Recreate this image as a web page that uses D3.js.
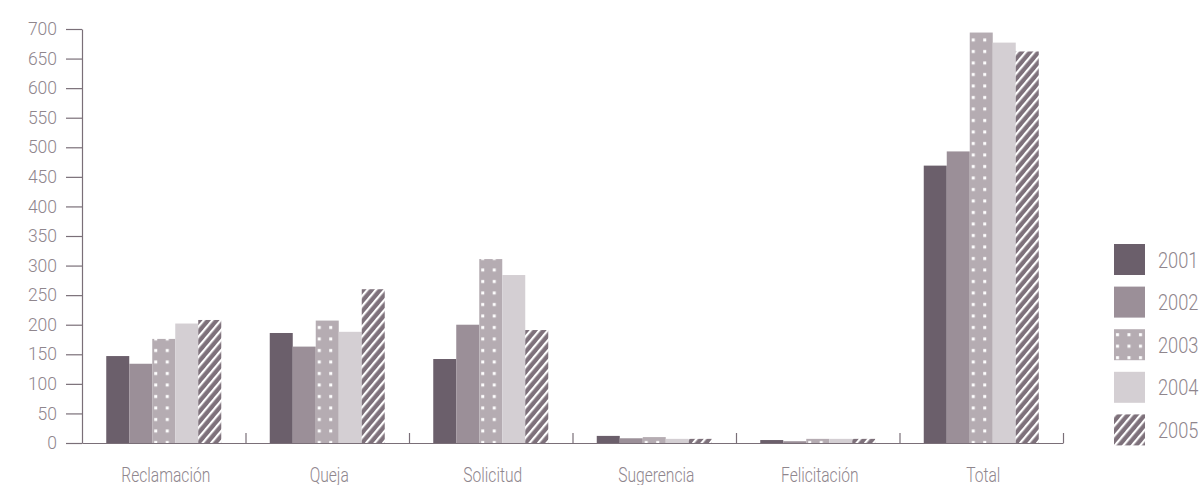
<!DOCTYPE html>
<html>
<head>
<meta charset="utf-8">
<script src="https://cdn.jsdelivr.net/npm/d3@7"></script>
<style>
  html, body { margin: 0; padding: 0; background: #fff; }
  svg { display: block; }
</style>
</head>
<body>
<svg id="chart" width="1204" height="485"></svg>
<script>
// Tipos de comunicación recibidos por año
const categories = ["Reclamación", "Queja", "Solicitud", "Sugerencia", "Felicitación", "Total"];
const years = ["2001", "2002", "2003", "2004", "2005"];
const values2001 = [147, 186, 142, 12, 5, 469];
const values2002 = [134, 163, 200, 8, 3, 493];
const values2003 = [176, 207, 311, 10, 7, 694];
const values2004 = [202, 188, 284, 7, 7, 677];
const values2005 = [208, 260, 191, 7, 7, 662];
const yTicks = [0, 50, 100, 150, 200, 250, 300, 350, 400, 450, 500, 550, 600, 650, 700];

const series = [values2001, values2002, values2003, values2004, values2005];

const svg = d3.select("#chart");
const defs = svg.append("defs");

// Dotted fill for 2003
const dots = defs.append("pattern")
  .attr("id", "dots").attr("patternUnits", "userSpaceOnUse")
  .attr("width", 11.5).attr("height", 11.5);
dots.append("rect").attr("width", 11.5).attr("height", 11.5).attr("fill", "#b5acb2");
dots.append("rect").attr("x", 2).attr("y", 4).attr("width", 3).attr("height", 3).attr("fill", "#ffffff");

// Diagonal hatch for 2005
const hatch = defs.append("pattern")
  .attr("id", "hatch").attr("patternUnits", "userSpaceOnUse")
  .attr("width", 6.5).attr("height", 6.5)
  .attr("patternTransform", "rotate(40)");
hatch.append("rect").attr("width", 6.5).attr("height", 6.5).attr("fill", "#7e717b");
hatch.append("rect").attr("x", 0).attr("y", 0).attr("width", 2.2).attr("height", 6.5).attr("fill", "#ffffff");

const fills = ["#6b5f6b", "#9b8f98", "url(#dots)", "#d4cfd3", "url(#hatch)"];

const plotLeft = 82, plotRight = 1063, plotTop = 29, plotBottom = 443;

const y = d3.scaleLinear().domain([0, 700]).range([plotBottom, plotTop]);
const x0 = d3.scaleBand().domain(categories).range([plotLeft, plotRight]).paddingInner(0).paddingOuter(0);
const groupW = 115;
const x1 = d3.scaleBand().domain(years).range([0, groupW]).padding(0);

const axisColor = "#7a6f78";
const textColor = "#8f868d";
const fontFamily = "Roboto, 'Liberation Sans', sans-serif";

// Bars
const groups = svg.append("g").selectAll("g")
  .data(categories)
  .join("g")
  .attr("transform", c => `translate(${x0(c) + (x0.bandwidth() - groupW) / 2},0)`);

groups.selectAll("rect")
  .data((c, i) => years.map((yr, k) => ({ yr, k, v: series[k][i] })))
  .join("rect")
  .attr("x", d => x1(d.yr))
  .attr("width", x1.bandwidth())
  .attr("y", d => y(d.v))
  .attr("height", d => plotBottom - y(d.v))
  .attr("fill", d => fills[d.k]);

// Y axis
const yAxis = d3.axisLeft(y).tickValues(yTicks).tickSize(16).tickPadding(9).tickSizeOuter(0);
const gy = svg.append("g").attr("transform", `translate(${plotLeft},0)`).call(yAxis);
gy.select(".domain").attr("stroke", axisColor).attr("stroke-width", 1.2);
gy.selectAll(".tick line").attr("stroke", axisColor).attr("stroke-width", 1.2);
gy.selectAll(".tick text")
  .attr("fill", textColor)
  .attr("font-family", fontFamily)
  .attr("font-weight", 300)
  .attr("font-size", "17.5px");

// X axis with short upward ticks at category boundaries
const boundaries = categories.map(c => x0(c) + x0.bandwidth());
const xb = d3.scaleLinear().domain([plotLeft, plotRight]).range([plotLeft, plotRight]);
const gx = svg.append("g").attr("transform", `translate(0,${plotBottom})`)
  .call(d3.axisBottom(xb).tickValues(boundaries).tickSize(-10).tickSizeOuter(0).tickFormat(""));
gx.select(".domain").attr("stroke", axisColor).attr("stroke-width", 1.2);
gx.selectAll(".tick line").attr("stroke", axisColor).attr("stroke-width", 1.2);

// Category labels (condensed)
svg.append("g").selectAll("text")
  .data(categories)
  .join("text")
  .attr("transform", c => `translate(${x0(c) + x0.bandwidth() / 2 + 2},482) scale(0.78,1)`)
  .attr("text-anchor", "middle")
  .attr("fill", textColor)
  .attr("font-family", fontFamily)
  .attr("font-weight", 300)
  .attr("font-size", "20px")
  .text(c => c);

// Legend
const legend = svg.append("g").selectAll("g")
  .data(years)
  .join("g")
  .attr("transform", (d, i) => `translate(1114,${244 + i * 42.6})`);
legend.append("rect")
  .attr("width", 31).attr("height", 31)
  .attr("fill", (d, i) => fills[i]);
legend.append("text")
  .attr("transform", "translate(44,23.5) scale(0.83,1)")
  .attr("fill", textColor)
  .attr("font-family", fontFamily)
  .attr("font-weight", 300)
  .attr("font-size", "22px")
  .text(d => d);
</script>
</body>
</html>
